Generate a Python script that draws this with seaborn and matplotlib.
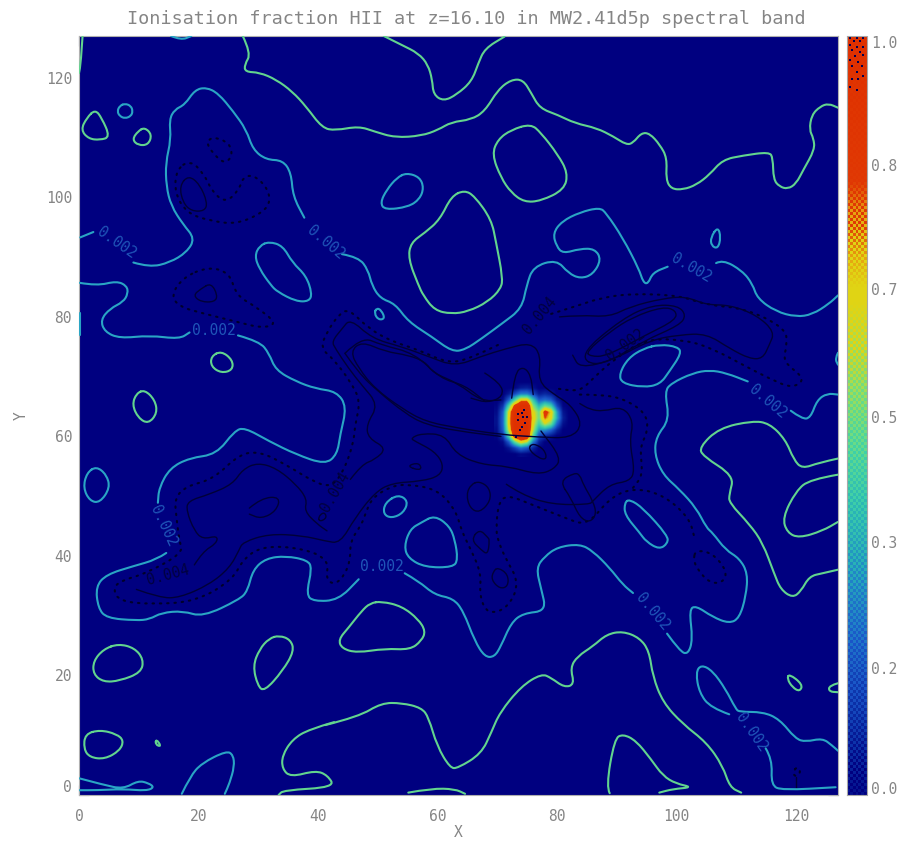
import numpy as np
import pandas as pd
import matplotlib
matplotlib.use("Agg")
import matplotlib.pyplot as plt
from matplotlib.colors import LinearSegmentedColormap
from matplotlib.patches import PathPatch
from matplotlib.path import Path
from matplotlib.ticker import MultipleLocator
import seaborn as sns

# ionisation fraction around the source, rows from y=69 down to y=57, columns x=70..82
patch_x = [70, 71, 72, 73, 74, 75, 76, 77, 78, 79, 80, 81, 82]
patch_y = [69, 68, 67, 66, 65, 64, 63, 62, 61, 60, 59, 58, 57]
patch_values = [
    [0, 0, 0, 0, 0, 0, 0, 0, 0, 0, 0, 0, 0],
    [0, 0, 0, .01, .05, .06, .03, 0, 0, 0, 0, 0, 0],
    [0, 0, .05, .15, .25, .25, .15, .05, .08, .05, 0, 0, 0],
    [0, .02, .2, .45, .7, .7, .4, .18, .22, .18, .05, 0, 0],
    [.01, .1, .45, .85, 1, 1, .55, .35, .5, .42, .15, .01, 0],
    [.02, .18, .65, 1, 1, 1, .65, .5, .85, .7, .3, .04, 0],
    [.03, .2, .68, 1, 1, 1, .68, .5, .78, .65, .32, .06, 0],
    [.03, .2, .68, 1, 1, 1, .65, .42, .6, .5, .2, .03, 0],
    [.02, .18, .62, 1, 1, 1, .6, .28, .28, .2, .07, 0, 0],
    [.01, .1, .45, .92, 1, .97, .48, .14, .08, .04, 0, 0, 0],
    [0, .02, .18, .48, .68, .58, .25, .06, 0, 0, 0, 0, 0],
    [0, 0, .04, .12, .22, .17, .07, 0, 0, 0, 0, 0, 0],
    [0, 0, 0, 0, .02, .01, 0, 0, 0, 0, 0, 0, 0],
]
core_x = [74.1, 74.3, 74.9, 73.5, 74.6, 74.1, 73.8, 73.1, 74.4, 73.5]
core_y = [63.9, 63.3, 63.3, 62.8, 62.2, 61.6, 61.1, 59.9, 64.4, 63.7]

green_contours = [
    [(0.6, 127), (0.3, 122.4), (0, 120.8)],
    [(27.4, 127), (28.8, 124.1), (27.7, 122.2), (27.8, 121), (30.2, 120.9), (33, 119.7), (35.7, 117.7), (38, 115.2),
     (40.7, 111.6), (42.9, 111.2), (46.8, 111.9), (49.5, 111), (52.9, 110), (57.3, 110.3), (60.1, 111.3), (62.3, 112.6),
     (65.6, 113), (67.9, 114.4), (70.1, 118), (72.3, 119.7), (74.3, 119.7), (75.7, 117.4), (77.1, 114.9), (80.1, 113.8),
     (83, 112.4), (86.6, 111.6), (89.4, 110.2), (91.6, 108.8), (92.7, 109.1), (94.1, 110.8), (95.5, 110.7), (97.2, 108.8),
     (98.4, 106.6), (98.2, 103), (99.1, 101.4), (101.1, 101.3), (103.3, 102.1), (105.5, 103.8), (107.7, 106.3), (111.1, 107),
     (115.5, 107.6), (116.1, 106.6), (116.2, 103), (117.2, 101.8), (118.6, 101.4), (120, 102.3), (121.2, 104.6), (123.1, 108),
     (122.9, 109.9), (122.2, 111.3), (122.6, 113.8), (124, 115.2), (125.4, 115.7), (127, 115)],
    [(51, 127), (54, 125.5), (56.8, 124.1), (58.4, 122.2), (59.1, 119.7), (59.3, 117.2), (61, 116.1), (63.2, 117.2),
     (65.7, 119.4), (66.8, 122.4), (67.9, 124.9), (71.2, 126.9)],
    [(2.7, 114.7), (3.8, 113.3), (5.2, 110.1), (3.5, 109.6), (1.6, 109.8), (0.3, 111.3), (1.3, 113.3), (2.7, 114.7)],
    [(11, 111.7), (12.2, 110.5), (11.6, 108.8), (9.9, 108.7), (8.9, 109.7), (9.9, 111.1), (11, 111.7)],
    [(75.6, 112.3), (77.3, 110.8), (80.1, 107.2), (81.8, 104.1), (81.2, 101.3), (77.3, 99.4), (74.5, 99.2), (72.3, 100.8),
     (70.6, 103.3), (69.1, 107.2), (70.1, 109.7), (72.3, 111.3), (75.6, 112.3)],
    [(64.5, 101.2), (66.2, 100.2), (69, 96.3), (69.8, 92.4), (70.9, 86.6), (70.6, 84.7), (68.4, 82.5), (65.1, 80.9),
     (62.3, 80.5), (59.5, 81.1), (57.6, 83.6), (56.8, 85.3), (55.1, 89.7), (55.5, 92.4), (57.9, 94.1), (60.4, 96.3),
     (62.3, 100.2), (64.5, 101.2)],
    [(23.8, 74.3), (25.7, 72.8), (25.7, 71.1), (23.8, 70.6), (22.1, 71.7), (22.1, 73.4), (23.8, 74.3)],
    [(11, 67.8), (12.7, 66.1), (13.1, 63.9), (11.6, 62.1), (9.9, 63.1), (8.9, 65.3), (9.6, 67.2), (11, 67.8)],
    [(127, 56.3), (123.8, 55.6), (121, 54.6), (119.6, 56.1), (118.2, 59.5), (115.5, 62.2), (112.7, 62.6), (107.1, 61.4),
     (103.8, 58.2), (104.4, 56.7), (109.6, 53.4), (108.8, 50.3), (108.8, 48.9), (112.2, 45.3), (114.4, 42.2), (116.3, 37.1),
     (117.4, 34.4), (119.4, 33), (120.8, 34.1), (122.2, 36.6), (124.4, 37.1), (127, 37.7)],
    [(127, 53.6), (122.3, 52.8), (120, 50.9), (117.7, 46.4), (118.5, 43.9), (120.5, 43), (124.4, 44.2), (127, 45.7)],
    [(6.6, 25.3), (9.3, 24.6), (10.8, 22.7), (10.4, 20.5), (6.8, 19.1), (4.1, 18.9), (2.4, 20.2), (2.4, 22.4), (4.1, 24.4), (6.6, 25.3)],
    [(33.5, 26.7), (35.4, 26), (36, 24.1), (34.1, 20.8), (31, 17.3), (29.9, 18.3), (29.1, 21.6), (30.2, 24.4), (31.8, 26.2), (33.5, 26.7)],
    [(3.5, 10.9), (6.3, 10.2), (7.5, 9.1), (6.8, 7.4), (4.3, 6), (1.8, 6.3), (0.8, 7.7), (1, 10.2), (3.5, 10.9)],
    [(12.9, 9.4), (13.8, 8.1), (12.8, 8.4), (12.9, 9.4)],
    [(42.7, 12.2), (38.5, 11), (35.7, 9.3), (34, 6.6), (34, 4.4), (35.4, 3), (39.6, 4.1), (41.6, 3.3), (42.8, 1.3), (34.2, 0.8), (33.4, 0)],
    [(41.2, 11.7), (46.8, 13.1), (50.6, 15.4), (54, 15.4), (57.3, 14.6), (58.5, 13), (59.9, 8.2), (62.1, 4.5), (63.4, 4.5),
     (67.3, 6.9), (69, 10.5), (70.4, 13.8), (74, 18.2), (77.4, 20.3), (79, 19.6), (81.2, 18), (82.9, 18.5), (82.2, 21.3),
     (83.4, 23.2), (86, 24.9), (88.3, 26.9), (91, 27.4), (93.8, 26.3), (95.4, 24.1), (96, 19.9), (97.7, 15.5), (101, 11.9),
     (105, 8.8), (107.7, 4.9), (108.9, 1.3), (110.8, 0.4)],
    [(50.6, 32.4), (54, 31.6), (56.8, 29.4), (58, 27.4), (57.3, 25.8), (55.4, 24.3), (51.2, 24.5), (46.5, 23.8), (44, 24.5),
     (43.4, 26), (45.1, 28), (47.3, 30.8), (48.7, 32.1), (50.6, 32.4)],
    [(55.1, 0.4), (59, 1.1), (62.9, 1), (64.6, 0.2)],
    [(88.8, 0.3), (88.2, 1.3), (89.6, 9.4), (91, 10.2), (93.2, 9.1), (95.7, 6), (97.7, 3.2), (99.9, 1.9), (102.7, 1.3), (99.4, 1), (97.1, 0.4)],
    [(118.8, 20.3), (121.1, 18.5), (120.6, 17.3), (119.4, 18), (118.5, 19.4), (118.8, 20.3)],
    [(127, 18.7), (125.5, 18.3), (125.5, 17.3), (127, 17.2)],
]

cyan_contours = [
    [(15.4, 127), (17.1, 126.3), (18.8, 127)],
    [(7.7, 115.7), (8.7, 115.3), (9, 114.4), (8.7, 113.6), (7.7, 113.2), (6.8, 113.6), (6.4, 114.4), (6.8, 115.3), (7.7, 115.7)],
    [(0.2, 93.3), (2.4, 94.2)],
    [(9.1, 89.1), (11.8, 88.3), (15.2, 89.1), (18, 90.8), (19.4, 93.1), (17.4, 95.5), (15.4, 98.6), (14.6, 101.9), (14.5, 105.8),
     (15.4, 109.7), (15.1, 113), (16, 114.7), (17.7, 115.5), (19.4, 118), (21.3, 118.4), (23.3, 117.4), (25.8, 114.4), (28, 111.3),
     (29.1, 108), (31.3, 106.3), (34.1, 106.2), (35.5, 104.1), (35.8, 100.2), (37.7, 96.6)],
    [(44, 90.5), (46.8, 90), (48.4, 87.8), (49, 85.3), (50.4, 83.1), (52.9, 82.2), (55.1, 79.2), (59, 76.7), (62.4, 74.2), (64.6, 74.5),
     (67.4, 76.4), (70.8, 78.9), (74.1, 81.4), (74.9, 85.3), (76, 88.4), (79.9, 89.6), (81.9, 87.3), (83.9, 86.4), (86, 87.1),
     (87.4, 89.6), (86.3, 91.4), (83.8, 91.4), (81, 90.6), (79.9, 91.8), (79.3, 94), (80.8, 96), (83.8, 97.5), (87.1, 98.3),
     (88.2, 97.4), (91, 93.2), (93.7, 88), (94.4, 85.8), (95.2, 85.5), (96, 87.4), (98.5, 88.4)],
    [(106.6, 89), (107.7, 89.6), (111, 87.7), (112.7, 85.5), (113.5, 83.1), (116.6, 80.9), (120, 80), (122.7, 80.4), (125.5, 82.2), (127, 83.6)],
    [(0.1, 85.7), (3, 85.2), (6.3, 86), (8, 85.2), (8.2, 83.9), (7.4, 82.5), (5.2, 81.4), (3.6, 79.5), (4.3, 77.5), (6.8, 76.4),
     (11.8, 76.9), (16.8, 76.3), (18.5, 77.4)],
    [(26.6, 76.9), (30.2, 75.9), (31.8, 73.9), (32.9, 71.1), (36.3, 69.2), (39.6, 68), (43.1, 67.5), (44.8, 65), (43.7, 60.3),
     (43.2, 57), (41.2, 55.3), (36.3, 57), (31.8, 59.2), (27.7, 61.5), (26, 60.9), (23, 57), (18.5, 56.4), (15.2, 54.7), (13.4, 51.4), (13.2, 48.9)],
    [(14.6, 40.5), (13, 39.4), (9.1, 38.3), (4.6, 36.9), (2.8, 34.9), (3.2, 31.3), (4.6, 29.6), (9.6, 29.2), (11.8, 29.4), (13.8, 30.5),
     (17.4, 30.8), (20.7, 29.8), (26.8, 32.7), (28.2, 34.1), (29.1, 37.7), (31.3, 39.6), (34.6, 40), (38.2, 39.3), (39, 38), (38, 33.5),
     (39.3, 32.4), (43.4, 32.6), (46.8, 36.1)],
    [(54.5, 37.1), (56.8, 35.8), (59.5, 33.5), (62.6, 32.9), (64.3, 30.8), (66.2, 25.8), (67.9, 23.1), (69.5, 23.1), (70.6, 24.9),
     (72.3, 28.8), (74.3, 30.4), (78.2, 30.8), (77.3, 34.6), (76.5, 38), (77.9, 39.9), (80.1, 41.5), (83.8, 42), (86, 40.8), (88.8, 38),
     (91, 35.2), (92.7, 33.8)],
    [(98.4, 27), (100.5, 24.1), (101.9, 23.5), (102.7, 26), (102.1, 31), (103.2, 31.7), (106, 29.8), (108.8, 28.7), (110.5, 29.6),
     (111.6, 33.3), (111.9, 37.1), (110.5, 39.6), (108.2, 41), (106, 43.9), (105, 44.7), (103.3, 48), (100.5, 51.1), (97.7, 53.6),
     (96.3, 57), (96.6, 60), (98.8, 62.8), (98, 67.5), (99.1, 68.9), (102.7, 70.6), (105.5, 71.1), (108.3, 70.6), (111.9, 69.2)],
    [(119.1, 64.3), (121, 62.9), (122.4, 63.1), (123.5, 66.1), (125.2, 67.2), (127, 67)],
    [(0.2, 80.6), (0.2, 77)],
    [(127, 74), (126.5, 73), (127, 72)],
    [(31.8, 92.6), (34.1, 91.9), (35.7, 89.1), (38, 86.9), (39, 83.9), (38.5, 82.6), (36.3, 82.6), (33.2, 84.2), (32.1, 85.3),
     (30.2, 88), (29.4, 90.2), (30.2, 91.9), (31.8, 92.6)],
    [(54.8, 104.1), (57, 103.4), (57.7, 101.6), (57, 99.7), (55.1, 98.4), (51.2, 97.9), (50.4, 99.1), (51.5, 101.3), (53.2, 103.3), (54.8, 104.1)],
    [(49.8, 81.5), (50.6, 81.1), (51.2, 79.7), (50.1, 79.5), (49.4, 80.6), (49.8, 81.5)],
    [(106.9, 95.1), (107.4, 93.3), (106.9, 91.4), (105.8, 91.9), (105.7, 93.3), (106.9, 95.1)],
    [(2.9, 55), (4.6, 53.6), (5.2, 51.4), (3.5, 48.9), (1.8, 49.2), (0.7, 51.4), (1.3, 53.9), (2.9, 55)],
    [(53.4, 50.3), (55.1, 49.2), (54.3, 47.2), (52.3, 46.3), (50.9, 47), (51.2, 48.9), (53.4, 50.3)],
    [(59.5, 46.8), (62, 45), (62.9, 42.7), (63.4, 39.4), (62.6, 38.1), (57.9, 38.1), (55.1, 39.6), (54.4, 41.6), (55.4, 44.5), (57.3, 45.6), (59.5, 46.8)],
    [(92.1, 49.5), (94.4, 48), (98.5, 43.4), (98.5, 42.1), (97.1, 41.1), (94.9, 42.4), (93.8, 43.9), (91.3, 46.9), (91.3, 48.9), (92.1, 49.5)],
    [(97.2, 75.4), (100.2, 75), (100.8, 73.9), (98.8, 70.9), (97.2, 68.7), (94.4, 68.2), (90.8, 68.9), (90.4, 70.5), (91.9, 73.1), (94.4, 74.7), (97.2, 75.4)],
    [(0, 2.8), (4.1, 1.7), (7.4, 1), (9.9, 2.4), (11.6, 2), (12.6, 1.3), (11.3, 0.7), (7.4, 1), (3, 0.8), (0, 0.8)],
    [(17.2, 0.2), (18.6, 3.1), (20.5, 5.3), (24.7, 7.4), (25.8, 6.7), (26, 4.8), (25.2, 2), (24.4, 0.2)],
    [(108.8, 13.5), (105.7, 14.6), (103.8, 17.1), (103.2, 20.5), (104.1, 21.8), (106, 20.8), (108.2, 17.7), (109.9, 14.4), (110.5, 13.9),
     (114.4, 13.9), (117.2, 12.7), (119.9, 9.4), (121.6, 8.9), (124.4, 9.5), (126, 8.3), (127, 7.4)],
    [(114.9, 7.8), (116, 6), (115.8, 1.6), (117.7, 0.8), (126.6, 1.3)],
]

black_solid = [
    [(18.3, 103.7), (20.2, 102.2), (21.5, 99.1), (21, 97.7), (18.8, 97.7), (17.4, 99.1), (16.8, 101.9), (18.3, 103.7)],
    [(22.1, 85.7), (23.2, 83.6), (22.7, 82.5), (20.4, 82.5), (19.1, 83.6), (20.4, 84.7), (22.1, 85.7)],
    [(45.4, 52.8), (47.3, 55.3), (49.5, 56.1), (51.5, 58), (48.4, 59.7), (48.1, 62), (50.1, 65.3), (47.3, 68.6), (45.1, 71.4),
     (42.9, 74.7), (42.3, 75.9), (44, 78), (45.4, 79.7), (49, 76.4), (54, 75), (58.4, 73.4), (62.9, 71.7), (67.3, 73.4), (71.5, 74.7),
     (75.6, 75.7), (77.3, 73.6), (76.8, 69.2), (79.5, 67), (82.3, 65.3), (84.3, 62), (82.3, 59.7), (76.8, 59.9), (70.6, 60.3),
     (63.4, 61.4), (57.9, 62.5), (54, 64.7), (49.5, 68), (46.8, 71.4), (45.4, 74.2), (47.3, 75.9), (51.2, 74.2), (55.1, 73.6),
     (57.9, 72.5), (59.3, 70.6), (63.4, 68.9), (67.3, 65.9), (70.6, 66.1)],
    [(44.5, 73.9), (46.8, 70.6), (50.1, 67.5), (54.5, 63.9), (57.9, 62), (63.4, 60.9), (70.6, 60)],
    [(44.5, 73.9), (47.3, 76.7), (50.6, 75.3), (56.2, 73.9), (60.4, 69.7), (64.5, 68.6), (67.9, 65.9)],
    [(72.4, 66.4), (72.9, 70.6), (74.3, 71.7), (75.6, 70.3), (76, 67)],
    [(67.9, 70.6), (70.6, 68.9), (71, 66.7), (68.4, 65.6), (65.6, 66.4)],
    [(19.3, 38.5), (20.7, 40.7), (23, 42.1), (23.2, 43.4), (20.7, 42.8), (19.3, 44.2), (18, 47.5), (18.2, 49.2), (21.8, 50.3), (25.7, 52),
     (27.4, 54.5), (29.9, 55.6), (33, 54.7), (36.3, 52), (38.2, 49.5), (37.7, 47.5), (39.9, 45.3), (41.5, 44.2)],
    [(9.6, 34.4), (13.5, 33), (16.8, 33), (21.8, 35.2), (25.2, 38), (26.8, 41), (27.4, 42.3), (31.8, 43.7), (37.4, 43.4), (41.2, 42.5),
     (43.7, 42.1), (46.2, 46.4), (49.5, 50.6), (52.3, 52.2), (57.3, 52.5), (60.4, 53.4), (61, 55.3), (59.5, 57.5), (56.2, 59.2), (55.5, 59.7),
     (57.3, 60.5), (61.2, 60.3), (63.1, 57), (67.3, 55.3), (71.8, 55), (76.8, 53.6), (79.5, 54.5), (80.7, 56.4), (77.3, 60.9)],
    [(28.5, 48), (30.5, 49.7), (33.7, 49.9), (33, 47.5), (30.5, 46.2), (28.5, 47)],
    [(40, 46.5), (41, 47.4), (41.5, 46.4), (40.3, 45.7), (40, 46.5)],
    [(54.9, 55), (56.5, 55.6), (57.3, 55), (57, 54.3), (54.9, 55)],
    [(75.1, 58), (76.8, 56.4), (78.3, 56.1), (77.9, 57.8), (76, 58.9), (75.1, 58)],
    [(67, 52.5), (68.7, 51.4), (68.9, 49.2), (67, 47.2), (65.4, 48), (64.8, 50.3), (65.6, 52), (67, 52.5)],
    [(67, 44.5), (68.4, 43.1), (68.7, 42.7), (68.4, 40.2), (67.3, 41), (65.6, 42.7), (67, 44.5)],
    [(70.1, 38.1), (71.8, 36.9), (71.8, 34.9), (70.4, 34.5), (69, 36), (69.3, 37.4), (70.1, 38.1)],
    [(71.5, 52), (74, 50.3), (79, 48.6), (85.4, 48.6), (86, 49.2), (88.8, 52), (92.1, 52.5), (93, 54.2), (92.1, 59.2), (92.8, 62.5), (91, 65),
     (87.7, 64.2), (85.5, 64.5), (83.8, 65.5)],
    [(80.4, 52.5), (82.9, 53.9), (83.8, 53.6), (84.4, 51.9), (86, 49.2), (86.6, 47), (85.5, 45.6), (83.8, 46.4), (82.3, 49.7), (80.4, 52.5)],
    [(80.4, 80), (83.8, 80.3), (88.8, 80), (92.2, 81.7), (97.7, 83.1), (101.6, 83.4), (105, 82), (108.9, 82), (113.4, 80.3), (116.4, 77.5),
     (115.5, 75.3), (114.4, 73), (112.2, 73), (108.9, 74.7), (105, 77.2), (100.5, 77), (95.5, 76.1), (89.4, 72.8), (83.8, 71.4), (82.6, 73.6)],
    [(84.9, 74.2), (88.8, 77.5), (92.7, 80), (97.7, 81.7), (99.9, 81.1), (99.9, 79.5), (94.9, 77), (88.2, 73.4), (85.5, 73.4), (84.9, 74.2)],
    [(83.5, 73.5), (91, 79.8), (96, 82), (100.2, 81.9), (101.6, 80.3), (100.5, 78.6), (94.5, 76), (87, 71.5), (83.5, 73.5)],
    [(119.9, 3), (119.9, 1)],
]

black_dotted = [
    [(18.6, 106.2), (20.8, 104.1), (22.4, 100.8), (24.6, 99.1), (26.8, 101.3), (27.4, 103.3), (29.1, 103.8), (31.3, 101.9), (32.1, 99.4),
     (30.7, 97.4), (26.3, 95.5), (21.8, 96.1), (18, 97.4), (16, 100.8), (16.3, 104.7), (18.6, 106.2)],
    [(22.4, 110.2), (25.2, 109.1), (25.7, 106.9), (24.3, 105.6), (22.4, 107.4), (21.3, 109.1), (22.4, 110.2)],
    [(21.6, 88.4), (25.2, 87.4), (26.3, 83.6), (29.6, 81.7), (33.2, 78.9), (30.7, 78.1), (26.3, 79.2), (20.7, 80.6), (16.8, 81.7),
     (15.4, 83.6), (17.4, 86.6), (21.6, 88.4)],
    [(70.1, 75.3), (65.6, 73.1), (61.8, 72.2), (56.8, 74.5), (52.3, 75.9), (48.4, 78.1), (45.1, 81.4), (43.4, 80.3), (41.5, 77.5), (40.4, 74.8),
     (42.7, 72.8), (45.4, 69.2), (47.1, 65.9), (46.2, 62), (45.9, 58.6), (44, 53.6), (42, 51.5), (39.1, 52.5), (34.6, 55.3), (30.2, 57.5),
     (26.8, 57), (22.4, 52.8), (18, 51.7), (16, 49.7), (16.3, 46.4), (16.8, 42.5), (17.4, 40.5), (11.3, 37.1), (6.8, 35.8), (5.7, 34.4),
     (6.8, 32.4), (12.4, 31.9), (19.6, 32.4), (25.7, 36), (27.4, 39.4), (30.7, 41.7), (37.4, 41.3), (41.8, 39.4), (41.3, 36), (42.9, 35.2),
     (44.5, 36.9), (45.4, 39.4), (45.4, 42.5), (47.3, 45.3), (47.9, 47), (49, 49.7), (52.3, 51.7), (55.1, 52), (60.1, 51.1), (63.1, 47.5),
     (64, 44.2), (65.6, 41), (67.3, 37.1), (67, 33.3), (68.4, 30.2), (71.8, 31.3), (73.7, 35.5), (71.2, 39.9), (70.1, 42.7), (69.8, 44.2),
     (70.1, 48.6), (71.5, 50.3), (76, 48.5), (81, 46.5), (85, 45), (88.8, 49.7), (92.7, 51.4), (97.7, 50.3), (102.1, 46.4), (103, 43)],
    [(79, 80.5), (83.8, 82), (87.1, 83.1), (92.1, 83.9), (100.5, 83.6), (104.9, 82), (111.6, 81.4), (118.2, 78.1), (118.5, 75.3), (117.7, 72.5),
     (121.6, 69.7), (119.4, 68), (115.5, 69.7), (111.6, 71.7), (106, 74.7), (101.6, 76.1), (94.9, 76.4), (89.4, 72.8), (86, 69.7), (83.8, 67.5), (80, 68)],
    [(83.8, 67), (87, 67), (91, 66.4), (94.9, 63.9), (95.2, 60.9), (93.8, 58.1), (94.4, 53.6), (92.7, 51.4)],
    [(103.2, 41), (106, 40.5), (108.5, 37.4), (107.7, 35.5), (105.5, 35.5), (103.5, 37.7), (102.8, 39.4), (103.2, 41)],
    [(120.2, 4.8), (120.8, 3.8), (119.9, 3), (119.4, 3.8), (120.2, 4.8)],
]

# contour labels: x, y, text, rotation
blue_labels = [(6.2, 92.4, -35), (41.2, 92.5, -40), (22.6, 77.8, 0), (102.4, 88.2, -30), (14.1, 45, -65),
               (50.7, 38.3, 0), (95.9, 30.6, -50), (115.3, 65.8, -40), (112.4, 10.5, -55)]
dark_labels = [(77.1, 80.3, "0.004", 50), (14.9, 36.8, "0.004", 15), (42.8, 50.7, "0.004", 60), (91.4, 75.3, "0.002", 35)]

bar_tick_values = [0.009, 0.167, 0.333, 0.498, 0.667, 0.83, 0.992]
bar_tick_labels = ["0.0", "0.2", "0.3", "0.5", "0.7", "0.8", "1.0"]
speck_col = [1.1, 3.4, 5.6, 2.3, 4.5, 1.1, 3.4, 5.6, 1.7, 4.5, 2.8, 5.6, 1.1, 4, 1.7, 5.1, 3.4, 5.6, 1.7, 4, 1.1, 3.4]
speck_val = [.997, .997, .997, .993, .993, .988, .986, .986, .982, .979, .973, .975, .968, .966, .96, .96, .953, .947, .944, .944, .933, .929]

sns.set_theme(style="white")
plt.rcParams["font.family"] = ["DejaVu Sans Mono"]
grey = "#858585"

cmap = LinearSegmentedColormap.from_list("ion", [
    (0.0, "#000080"), (0.08, "#0a2ca4"), (0.17, "#1a55c8"), (0.25, "#2080c8"), (0.33, "#27b0b8"), (0.42, "#3fd0a8"),
    (0.5, "#6ddc84"), (0.57, "#a8dc50"), (0.62, "#e0d414"), (0.7, "#e0d414"), (0.74, "#e6a010"), (0.78, "#e03a04"),
    (1.0, "#df3000")], N=512)

fig = plt.figure(figsize=(8.99, 8.43), dpi=100)
ax = fig.add_axes([79 / 899, 48 / 843, 759 / 899, 759 / 843])
cax = fig.add_axes([847 / 899, 48 / 843, 20 / 899, 759 / 843])

# map: empty grid with the source cells filled in
field = pd.DataFrame(np.zeros((128, 128)))
for row, y in enumerate(patch_y):
    for col, x in enumerate(patch_x):
        field.iloc[y, x] = patch_values[row][col]
sns.heatmap(field, ax=ax, cmap=cmap, vmin=0, vmax=1, cbar=False, xticklabels=False, yticklabels=False)
ax.imshow(patch_values, extent=(69.5, 82.5, 56.5, 69.5), origin="upper", cmap=cmap, vmin=0, vmax=1,
          interpolation="bilinear", aspect="auto", zorder=2)
sns.scatterplot(x=core_x, y=core_y, ax=ax, color="#000050", s=4, linewidth=0, marker="s", zorder=3, legend=False)


def contour_path(points):
    # bezier through the traced points, contours in the map are smooth curves
    if points[0] == points[-1]:
        pts = points[:-1]
        mids = [((pts[i - 1][0] + pts[i][0]) / 2, (pts[i - 1][1] + pts[i][1]) / 2) for i in range(len(pts))]
        verts, codes = [mids[0]], [Path.MOVETO]
        for i in range(len(pts)):
            verts += [pts[i], mids[(i + 1) % len(pts)]]
            codes += [Path.CURVE3, Path.CURVE3]
        return Path(verts, codes)
    verts, codes = [points[0]], [Path.MOVETO]
    for i in range(1, len(points) - 1):
        mid = ((points[i][0] + points[i + 1][0]) / 2, (points[i][1] + points[i + 1][1]) / 2)
        verts += [points[i], mid]
        codes += [Path.CURVE3, Path.CURVE3]
    verts.append(points[-1])
    codes.append(Path.LINETO)
    return Path(verts, codes)


def draw_paths(paths, color, lw, ls="-"):
    for points in paths:
        ax.add_patch(PathPatch(contour_path(points), facecolor="none", edgecolor=color, linewidth=lw, linestyle=ls,
                               capstyle="round", joinstyle="round", zorder=4))


draw_paths(black_dotted, "#00002a", 1.5, (0, (0.7, 2.8)))
draw_paths(black_solid, "#000038", 1.0)
draw_paths(cyan_contours, "#2aa5c4", 1.5)
draw_paths(green_contours, "#62d48e", 1.5)

for x, y, rot in blue_labels:
    ax.text(x, y, "0.002", color="#1f55b8", fontsize=10.5, rotation=rot, ha="center", va="center", zorder=5)
for x, y, txt, rot in dark_labels:
    ax.text(x, y, txt, color="#000040", fontsize=10.5, rotation=rot, ha="center", va="center", zorder=5)

ax.set_xlim(0, 127)
ax.set_ylim(0, 127)
ax.xaxis.set_major_locator(MultipleLocator(20))
ax.yaxis.set_major_locator(MultipleLocator(20))
ax.xaxis.set_minor_locator(MultipleLocator(4))
ax.yaxis.set_minor_locator(MultipleLocator(4))
ax.set_xticklabels([str(int(t)) for t in ax.get_xticks()])
ax.set_yticklabels([str(int(t)) for t in ax.get_yticks()])
ax.tick_params(which="major", direction="in", length=7, width=0.8, color="#20205a", top=True, right=True,
               bottom=True, left=True, labelcolor=grey, labelsize=10.5)
ax.tick_params(which="minor", direction="in", length=3.5, width=0.8, color="#20205a", top=True, right=True, bottom=True, left=True)
ax.tick_params(axis="x", which="major", pad=10)
ax.tick_params(axis="y", which="major", pad=5)
for lab in ax.get_yticklabels():
    lab.set_rotation(0)
    if lab.get_text() == "0":
        lab.set_va("bottom")
for lab in ax.get_xticklabels():
    lab.set_rotation(0)
ax.set_xlabel("X", color=grey, fontsize=10.5, labelpad=1, visible=True)
ax.set_ylabel("Y", color=grey, fontsize=10.5, labelpad=12, visible=True)
ax.set_title("Ionisation fraction HII at z=16.10 in MW2.41d5p spectral band", color=grey, fontsize=13.3, pad=9, x=0.5105)
for sp in ax.spines.values():
    sp.set_visible(True)
    sp.set_color("#b0b0b0")
    sp.set_linewidth(0.8)

# colour bar, ordered checker so the colour steps break up as in the original
bar_rows = np.linspace(0, 1, 254)
bar = np.array([[v + 0.03 * (1 if (i + j) % 2 else -1) for j in range(7)] for i, v in enumerate(bar_rows)])
sns.heatmap(bar, ax=cax, cmap=cmap, vmin=0, vmax=1, cbar=False, xticklabels=False, yticklabels=False)
sns.scatterplot(x=speck_col, y=[v * 254 for v in speck_val], ax=cax, color="#000050", s=4, linewidth=0, marker="s", legend=False)
cax.set_xlim(0, 7)
cax.set_ylim(0, 254)
cax.yaxis.tick_right()
cax.set_yticks([v * 254 for v in bar_tick_values])
cax.set_yticklabels(bar_tick_labels, rotation=0)
cax.tick_params(axis="y", length=0, labelcolor=grey, labelsize=10.5, pad=3, right=False)
for sp in cax.spines.values():
    sp.set_visible(True)
    sp.set_color("#a8a8a8")
    sp.set_linewidth(0.8)
    sp.set_linestyle((0, (1, 1)))

fig.savefig("out.png", dpi=100)
plt.close(fig)
